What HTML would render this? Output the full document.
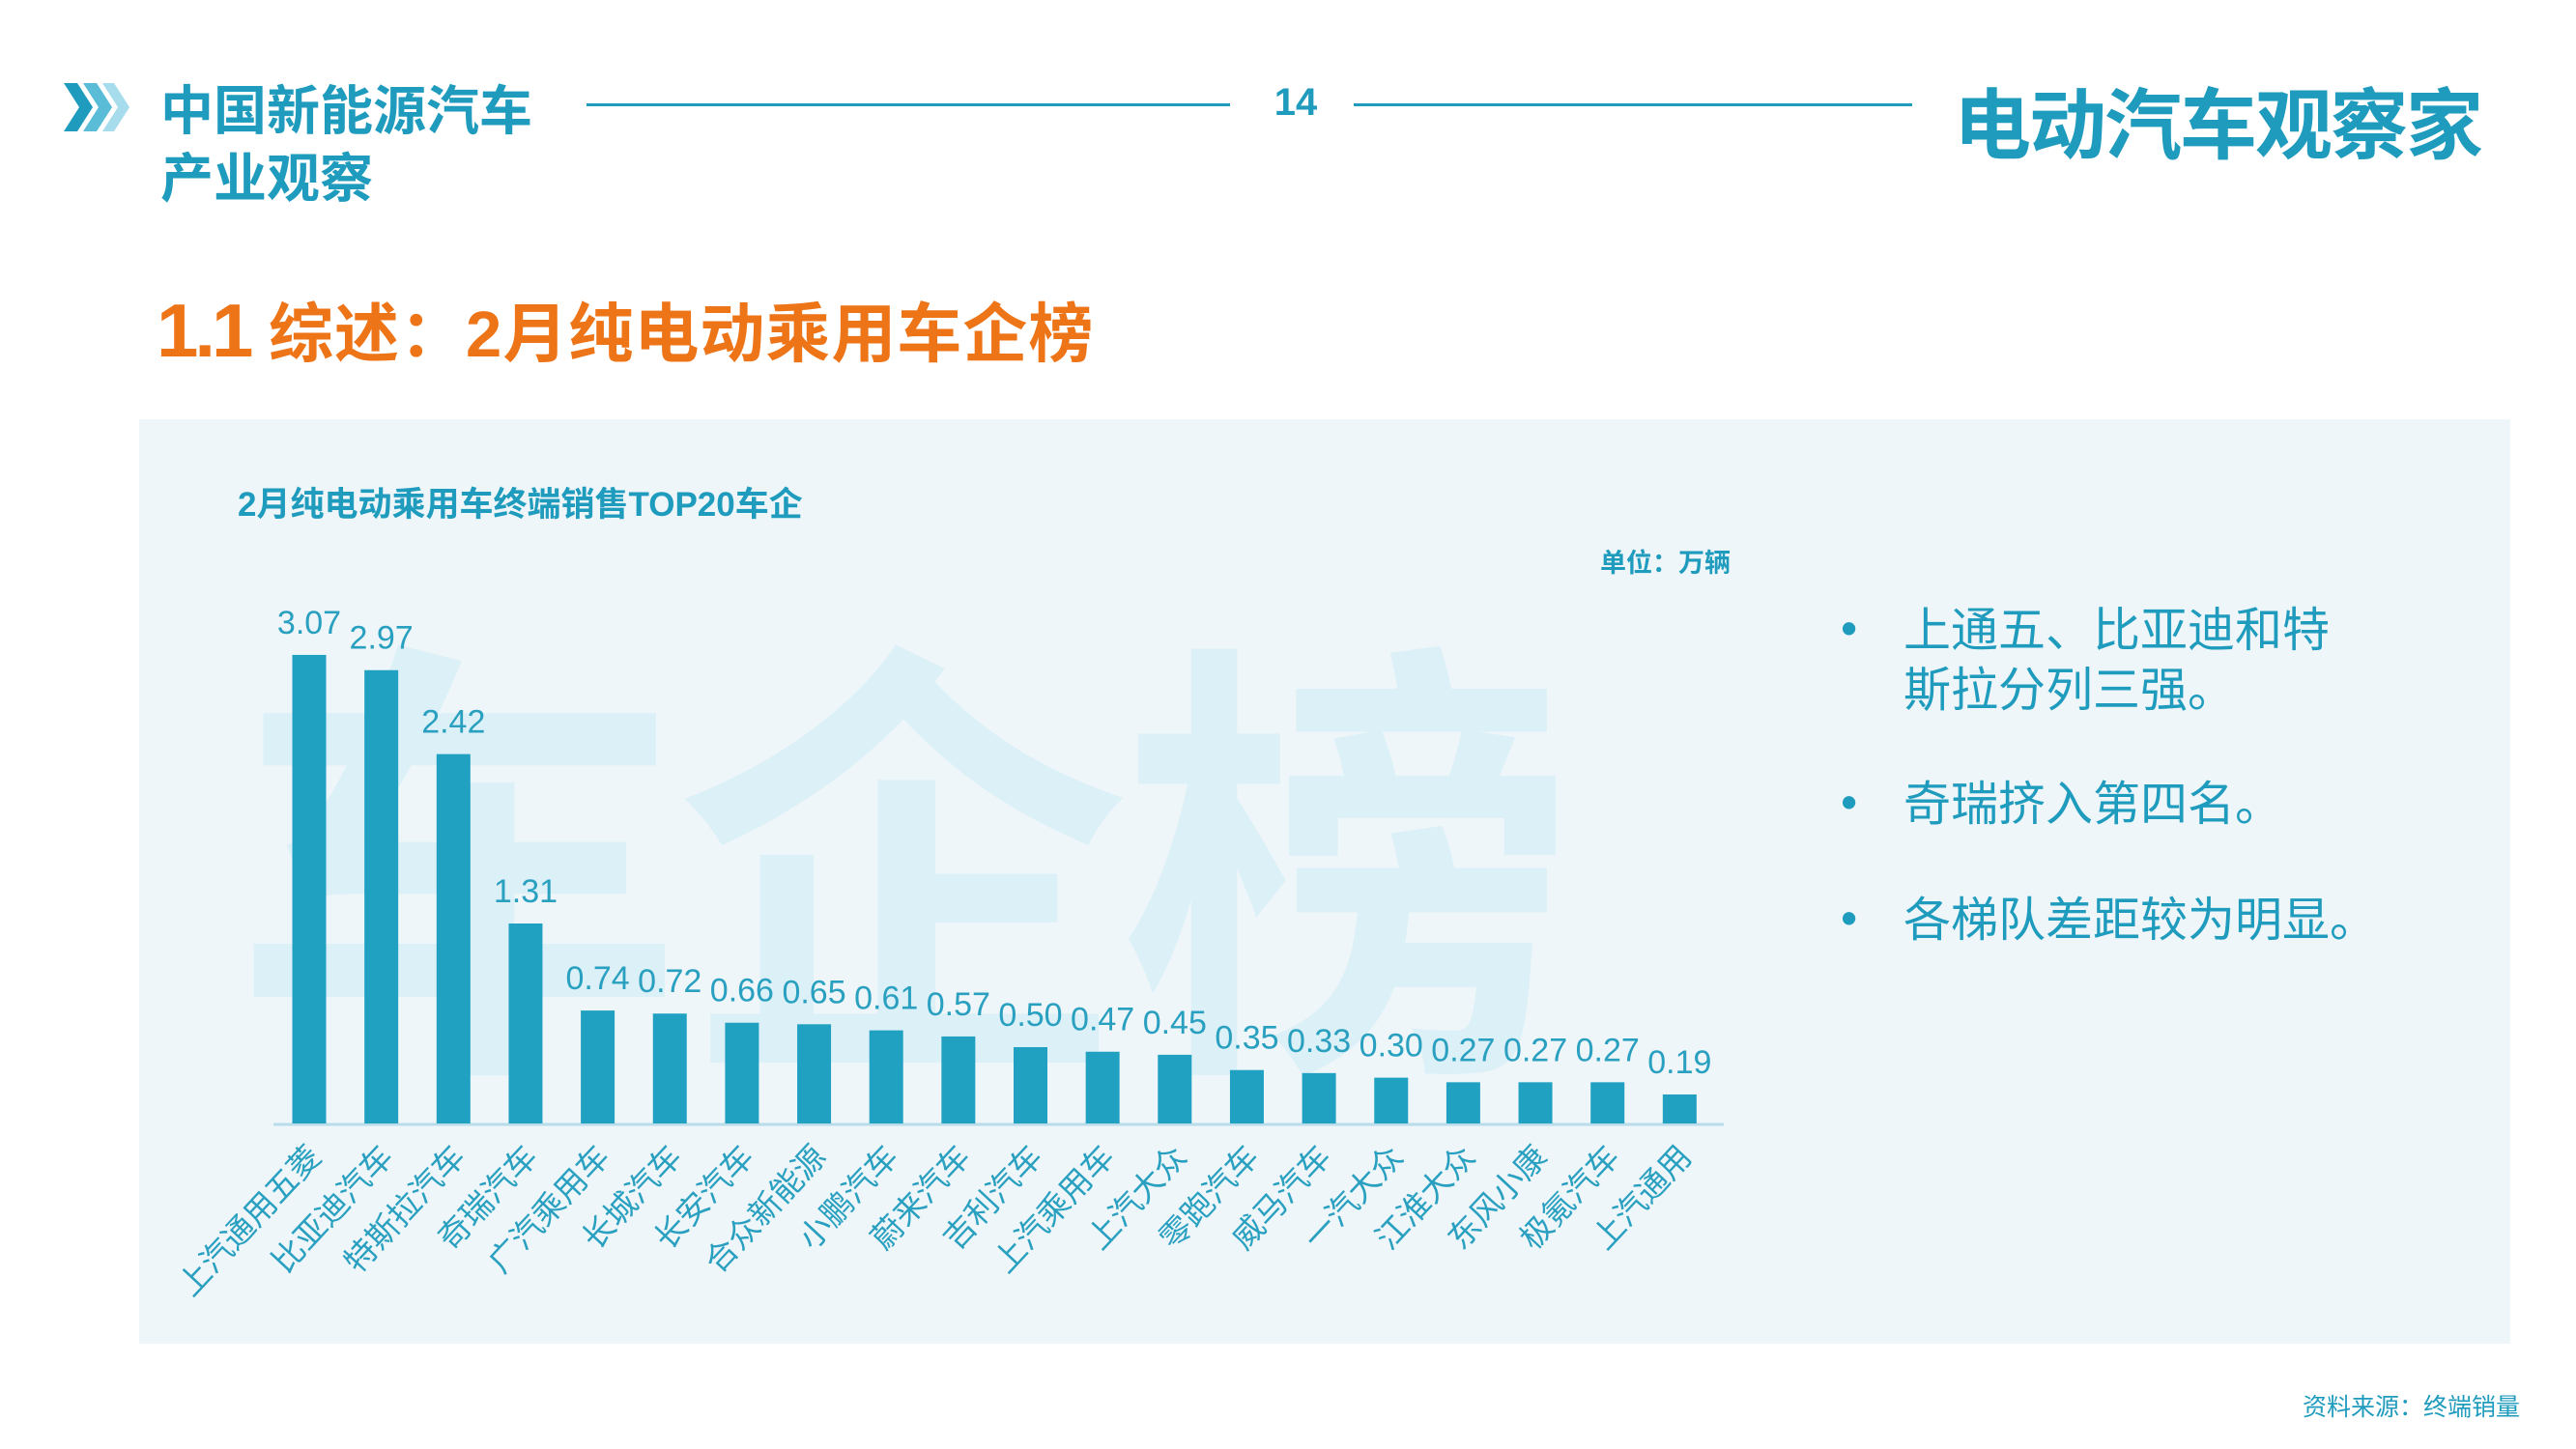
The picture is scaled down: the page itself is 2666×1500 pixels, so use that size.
<!DOCTYPE html>
<html><head><meta charset="utf-8">
<style>
body{margin:0;width:2666px;height:1500px;background:#fff;position:relative;overflow:hidden;font-family:"Liberation Sans","Noto Sans CJK SC",sans-serif;}
.a{position:absolute;white-space:nowrap;}
</style></head><body>
<svg class="a" style="left:66px;top:86px" width="72" height="50">
<polygon points="0,0 14,0 30,25 14,50 0,50 16,25" fill="#1f9bbd"/>
<polygon points="20,0 34,0 50,25 34,50 20,50 36,25" fill="#5bbcd8"/>
<polygon points="40,0 52,0 68,25 52,50 40,50 56,25" fill="#a6dcec"/>
</svg>
<div class="a" style="left:166px;top:80px;font-size:55px;line-height:70px;font-weight:bold;color:#1f9bbd;">中国新能源汽车<br>产业观察</div>
<div class="a" style="left:607px;top:107px;width:666px;height:3px;background:#1f9bbd"></div>
<div class="a" style="left:1310px;top:84px;width:62px;text-align:center;font-size:40px;font-weight:bold;color:#1f9bbd">14</div>
<div class="a" style="left:1401px;top:107px;width:578px;height:3px;background:#1f9bbd"></div>
<div class="a" style="left:2022px;top:66px;font-size:80px;font-weight:bold;color:#1f9bbd;letter-spacing:-2px">电动汽车观察家</div>
<div class="a" style="left:162px;top:292px;font-size:67px;font-weight:bold;color:#ee7418;letter-spacing:1px"><span style="font-size:78px;letter-spacing:-4px">1.1</span>&nbsp;综述：2月纯电动乘用车企榜</div>

<div class="a" style="left:144px;top:434px;width:2454px;height:957px;background:#eef6f9;overflow:hidden">
  <div class="a" style="left:96px;top:215px;font-size:470px;line-height:520px;font-weight:bold;color:#dcf0f7;letter-spacing:-10px">车企榜</div>
</div>
<div class="a" style="left:246px;top:494px;font-size:35px;font-weight:bold;color:#1f9bbd">2月纯电动乘用车终端销售TOP20车企</div>
<div class="a" style="left:1656px;top:561px;font-size:27px;font-weight:bold;color:#1f9bbd">单位：万辆</div>

<svg id="chart" class="a" style="left:0;top:0" width="2666" height="1500"></svg>

<div class="a" style="left:1905px;top:622px;font-size:49px;line-height:62px;color:#1f9bbd">
  <div style="position:relative;padding-left:65px">
    <span style="position:absolute;left:0;top:-2px">•</span>上通五、比亚迪和特<br>斯拉分列三强。</div>
  <div style="position:relative;padding-left:65px;margin-top:56px">
    <span style="position:absolute;left:0;top:-2px">•</span>奇瑞挤入第四名。</div>
  <div style="position:relative;padding-left:65px;margin-top:58px">
    <span style="position:absolute;left:0;top:-2px">•</span>各梯队差距较为明显。</div>
</div>
<div class="a" style="left:2383px;top:1437px;font-size:25px;color:#1f9bbd">资料来源：终端销量</div>

<script>
const categories=["上汽通用五菱","比亚迪汽车","特斯拉汽车","奇瑞汽车","广汽乘用车","长城汽车","长安汽车","合众新能源","小鹏汽车","蔚来汽车","吉利汽车","上汽乘用车","上汽大众","零跑汽车","威马汽车","一汽大众","江淮大众","东风小康","极氪汽车","上汽通用"];
const values=[3.07,2.97,2.42,1.31,0.74,0.72,0.66,0.65,0.61,0.57,0.50,0.47,0.45,0.35,0.33,0.30,0.27,0.27,0.27,0.19];
const valueLabels=["3.07","2.97","2.42","1.31","0.74","0.72","0.66","0.65","0.61","0.57","0.50","0.47","0.45","0.35","0.33","0.30","0.27","0.27","0.27","0.19"];

const svg=document.getElementById('chart');
const NS='http://www.w3.org/2000/svg';
const baseY=1163, unit=158, x0=320, step=74.65, bw=35;
const yScale=v=>baseY-v*unit;
const xScale=i=>x0+i*step;
const col='#21a1c2';
const axis=document.createElementNS(NS,'line');
axis.setAttribute('x1',283);axis.setAttribute('x2',1784);axis.setAttribute('y1',baseY+1);axis.setAttribute('y2',baseY+1);
axis.setAttribute('stroke','#b9dcea');axis.setAttribute('stroke-width',3);


svg.appendChild(axis);
values.forEach((v,i)=>{
  const cx=xScale(i), top=yScale(v);
  const r=document.createElementNS(NS,'rect');
  r.setAttribute('x',cx-bw/2);r.setAttribute('y',top);r.setAttribute('width',bw);r.setAttribute('height',baseY-top);r.setAttribute('fill',col);
  
  
  svg.appendChild(r);
  const t=document.createElementNS(NS,'text');
  t.setAttribute('x',cx);t.setAttribute('y',top-22);t.setAttribute('text-anchor','middle');
  t.setAttribute('font-size','34');t.setAttribute('fill','#2aa0c0');t.setAttribute('font-family','"Liberation Sans Narrow","Liberation Sans","Noto Sans CJK SC",sans-serif');
  t.textContent=valueLabels[i];
  
  
  svg.appendChild(t);
  const l=document.createElementNS(NS,'text');
  l.setAttribute('transform','translate('+(cx+14)+','+(baseY+36)+') rotate(-47)');
  l.setAttribute('text-anchor','end');
  l.setAttribute('font-size','33');l.setAttribute('fill','#2aa0c0');l.setAttribute('font-family','"Liberation Sans","Noto Sans CJK SC",sans-serif');
  l.textContent=categories[i];
  
  
  svg.appendChild(l);
});
</script>
</body></html>
